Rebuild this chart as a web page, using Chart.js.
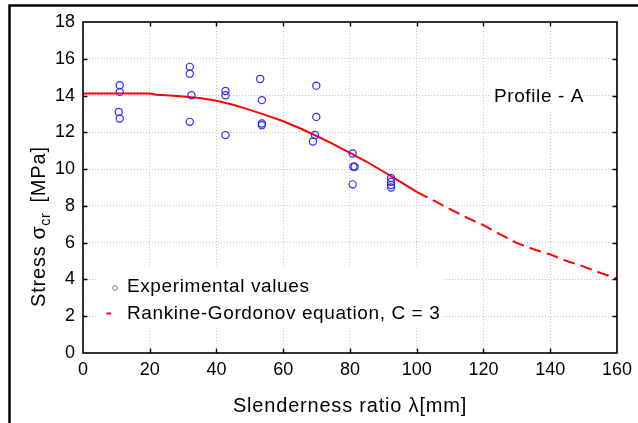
<!DOCTYPE html>
<html>
<head>
<meta charset="utf-8">
<script src="https://cdn.jsdelivr.net/npm/chart.js@4/dist/chart.umd.min.js"></script>
<style>
  html, body { margin: 0; padding: 0; background: #fff; }
  #wrap { width: 638px; height: 423px; position: relative; }
</style>
</head>
<body>
<div id="wrap"><canvas id="chart" width="638" height="423"></canvas></div>
<script>
// measured buckling stress of the tested columns
const expLambda = [11, 11, 10.7, 11, 32, 32, 32.5, 32, 42.7, 42.7, 42.7, 53.1, 53.6, 53.6, 53.6, 69.9, 69.9, 69.5, 68.9, 80.8, 81, 81.4, 80.8, 92.3, 92.3, 92.3, 92.3];
const expStress = [14.56, 14.2, 13.11, 12.75, 15.56, 15.19, 14.02, 12.57, 14.25, 14.02, 11.85, 14.9, 13.75, 12.48, 12.39, 14.54, 12.84, 11.86, 11.5, 10.85, 10.13, 10.13, 9.17, 9.52, 9.31, 9.13, 9.0];

// Rankine-Gordon curve, C = 3 (dashed beyond the tested range)
const curveLambda = [0, 10, 20, 22, 26, 30, 35, 40, 45, 50, 55, 60, 65, 70, 75, 80, 85, 90, 95, 100, 105, 110, 115, 120, 125, 130, 135, 140, 145, 150, 155, 160];
const curveStress = [14.11, 14.11, 14.11, 14.04, 14.0, 13.95, 13.87, 13.72, 13.5, 13.22, 12.92, 12.6, 12.22, 11.8, 11.36, 10.88, 10.4, 9.87, 9.32, 8.76, 8.3, 7.82, 7.36, 6.95, 6.45, 5.98, 5.64, 5.36, 5.0, 4.7, 4.36, 4.04];
const dashFrom = 100;

// axes
const xRange = [0, 160, 20];
const yRange = [0, 18, 2];

const seriesNames = ['Experimental values', 'Rankine-Gordonov equation, C = 3'];
const profileName = 'Profile - A';
const xTitle = 'Slenderness ratio \u03bb[mm]';

const FONT = '"Liberation Sans", Arial, sans-serif';
const POINT_COLOR = '#2b2bff';
const CURVE_COLOR = '#ff0000';

const toPoints = (xs, ys) => xs.map((x, i) => ({ x, y: ys[i] }));

function setSpacing (ctx, px) {
  if ('letterSpacing' in ctx) ctx.letterSpacing = px + 'px';
}

// white patch behind a text block so the grid does not run through it
function clearBox (ctx, x, y, w, h) {
  ctx.save();
  ctx.fillStyle = '#fff';
  ctx.fillRect(x, y, w, h);
  ctx.restore();
}

const decorations = {
  id: 'decorations',

  beforeDraw (chart) {
    const { ctx, width, height } = chart;
    ctx.save();
    ctx.fillStyle = '#fff';
    ctx.fillRect(0, 0, width, height);
    ctx.restore();
  },

  beforeDatasetsDraw (chart) {
    const { ctx } = chart;
    clearBox(ctx, 96, 268, 347, 59);
    clearBox(ctx, 490, 78, 93, 32);
  },

  afterDatasetsDraw (chart) {
    const { ctx, chartArea: a, scales: { x, y } } = chart;
    const tick = 4.5;

    ctx.save();
    ctx.strokeStyle = '#000';
    ctx.lineWidth = 1.6;
    ctx.strokeRect(a.left, a.top, a.right - a.left, a.bottom - a.top);

    // inward tick marks on all four sides
    ctx.beginPath();
    for (let v = xRange[0] + xRange[2]; v < xRange[1]; v += xRange[2]) {
      const px = Math.round(x.getPixelForValue(v)) + 0.5;
      ctx.moveTo(px, a.bottom); ctx.lineTo(px, a.bottom - tick);
      ctx.moveTo(px, a.top); ctx.lineTo(px, a.top + tick);
    }
    for (let v = yRange[0] + yRange[2]; v < yRange[1]; v += yRange[2]) {
      const py = Math.round(y.getPixelForValue(v)) + 0.5;
      ctx.moveTo(a.left, py); ctx.lineTo(a.left + tick, py);
      ctx.moveTo(a.right, py); ctx.lineTo(a.right - tick, py);
    }
    ctx.lineWidth = 1.4;
    ctx.stroke();
    ctx.restore();
  },

  afterDraw (chart) {
    const { ctx, chartArea: a } = chart;
    ctx.save();
    ctx.fillStyle = '#000';
    ctx.textBaseline = 'alphabetic';

    // legend
    ctx.font = '19px ' + FONT;
    setSpacing(ctx, 0.6);
    ctx.textAlign = 'left';
    ctx.fillText(seriesNames[0], 127, 292);
    ctx.fillText(seriesNames[1], 127, 319);

    ctx.beginPath();
    ctx.arc(115, 288, 2.3, 0, Math.PI * 2);
    ctx.strokeStyle = '#6d6dff';
    ctx.lineWidth = 1;
    ctx.stroke();

    ctx.beginPath();
    ctx.moveTo(106.5, 313.5);
    ctx.lineTo(111, 313.5);
    ctx.strokeStyle = CURVE_COLOR;
    ctx.lineWidth = 2;
    ctx.stroke();

    ctx.fillStyle = '#000';
    ctx.fillText(profileName, 494, 102);

    // x axis title
    ctx.font = '20px ' + FONT;
    setSpacing(ctx, 0.8);
    ctx.textAlign = 'center';
    ctx.fillText(xTitle, (a.left + a.right) / 2, 412);

    // y axis title, built piece by piece for the subscript
    ctx.translate(45, 307);
    ctx.rotate(-Math.PI / 2);
    ctx.textAlign = 'left';
    let pos = 0;
    const piece = (text, size, dy, gap) => {
      ctx.font = size + 'px ' + FONT;
      ctx.fillText(text, pos, dy);
      pos += ctx.measureText(text).width + gap;
    };
    piece('Stress', 20, 0, 6);
    piece('\u03c3', 21, 0, 0);
    piece('cr', 14, 5, 10);
    piece('[MPa]', 20, 0, 0);
    ctx.restore();

    // outer frame of the figure
    ctx.save();
    ctx.strokeStyle = '#000';
    ctx.lineWidth = 2.5;
    ctx.beginPath();
    ctx.moveTo(638, 5.5);
    ctx.lineTo(9.5, 5.5);
    ctx.lineTo(9.5, 423);
    ctx.stroke();
    ctx.restore();
  }
};

const tickFont = { family: FONT, size: 18 };
const gridOpts = { color: '#c4c4c4', lineWidth: 1, drawTicks: false };

new Chart(document.getElementById('chart'), {
  type: 'scatter',
  data: {
    datasets: [
      {
        label: seriesNames[0],
        data: toPoints(expLambda, expStress),
        showLine: false,
        pointStyle: 'circle',
        pointRadius: 3.6,
        pointBorderWidth: 1.2,
        pointBorderColor: POINT_COLOR,
        pointBackgroundColor: 'rgba(0,0,0,0)'
      },
      {
        label: seriesNames[1],
        data: toPoints(curveLambda, curveStress),
        showLine: true,
        tension: 0,
        borderColor: CURVE_COLOR,
        borderWidth: 2,
        pointRadius: 0,
        segment: {
          borderDash: ctx => ctx.p0.parsed.x >= dashFrom ? [12, 6] : undefined
        }
      }
    ]
  },
  options: {
    responsive: false,
    animation: false,
    devicePixelRatio: 1,
    layout: { padding: { top: 22, right: 19, left: 0, bottom: 0 } },
    plugins: {
      legend: { display: false },
      tooltip: { enabled: false }
    },
    scales: {
      x: {
        type: 'linear',
        min: xRange[0],
        max: xRange[1],
        ticks: { stepSize: xRange[2], font: tickFont, color: '#000', padding: 6, maxRotation: 0 },
        grid: gridOpts,
        border: { display: false, dash: [1, 2] },
        afterFit: scale => { scale.height = 70; }
      },
      y: {
        type: 'linear',
        min: yRange[0],
        max: yRange[1],
        ticks: { stepSize: yRange[2], font: tickFont, color: '#000', padding: 8 },
        grid: gridOpts,
        border: { display: false, dash: [1, 2] },
        afterFit: scale => { scale.height; scale.width = 83; }
      }
    }
  },
  plugins: [decorations]
});
</script>
</body>
</html>
